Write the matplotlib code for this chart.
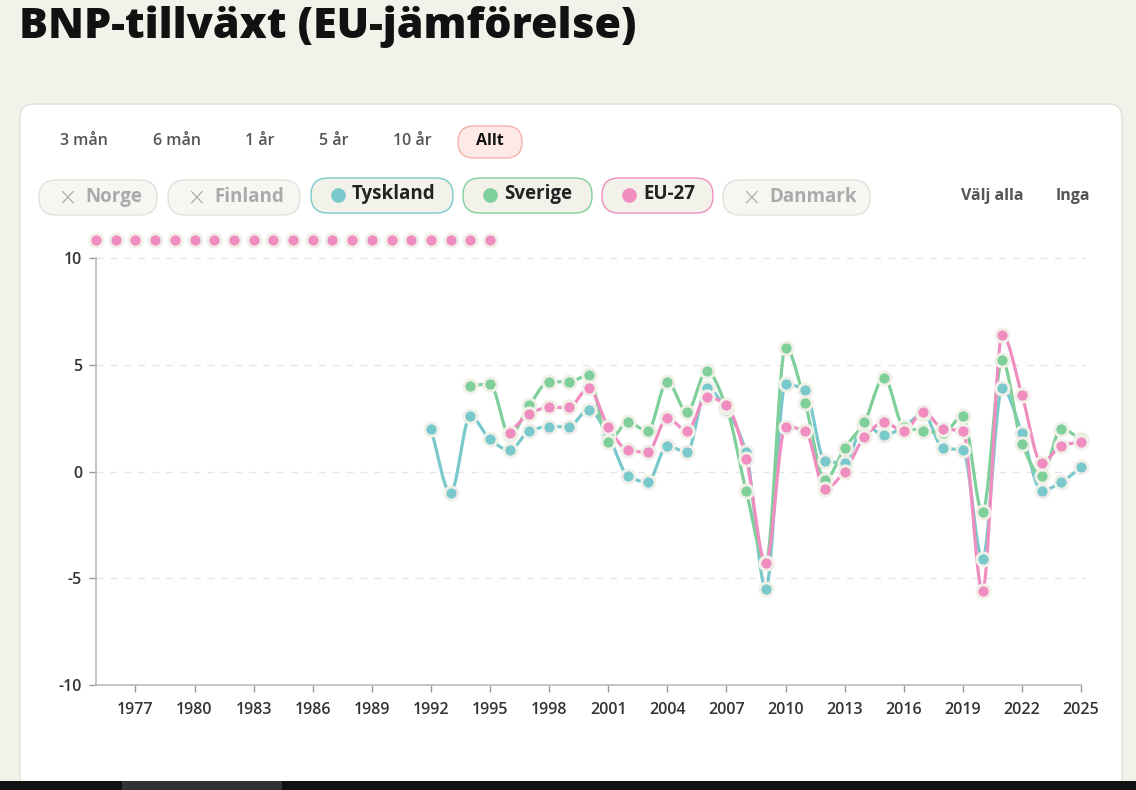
import numpy as np
import matplotlib
matplotlib.use("Agg")
import matplotlib.pyplot as plt
from matplotlib.patches import FancyBboxPatch, Rectangle

# Data (annual GDP growth, %)
tyskland_years = list(range(1992, 2026))
tyskland = [2.0, -1.0, 2.6, 1.5, 1.0, 1.9, 2.1, 2.1, 2.9, 1.7,
            -0.2, -0.5, 1.2, 0.9, 3.9, 2.9, 0.9, -5.5, 4.1, 3.8,
            0.5, 0.4, 2.2, 1.7, 2.1, 2.7, 1.1, 1.0, -4.1, 3.9,
            1.8, -0.9, -0.5, 0.2]

sverige_years = list(range(1994, 2026))
sverige = [4.0, 4.1, 1.7, 3.1, 4.2, 4.2, 4.5, 1.4, 2.3, 1.9,
           4.2, 2.8, 4.7, 3.0, -0.9, -4.3, 5.8, 3.2, -0.4, 1.1,
           2.3, 4.4, 2.1, 1.9, 1.8, 2.6, -1.9, 5.2, 1.3, -0.2,
           2.0, 1.5]

# EU-27 has no values before 1996; those years show as dots above the plot
eu_years = list(range(1975, 2026))
eu27 = [None] * 21 + [1.8, 2.7, 3.0, 3.0, 3.9, 2.1, 1.0, 0.9, 2.5, 1.9,
                      3.5, 3.1, 0.6, -4.3, 2.1, 1.9, -0.8, 0.0, 1.6, 2.3,
                      1.9, 2.8, 2.0, 1.9, -5.6, 6.4, 3.6, 0.4, 1.2, 1.4]

x_ticks = list(range(1977, 2026, 3))
y_ticks = [-10, -5, 0, 5, 10]

range_buttons = ["3 mån", "6 mån", "1 år", "5 år", "10 år", "Allt"]
series_buttons = ["Norge", "Finland", "Tyskland", "Sverige", "EU-27", "Danmark"]

TEAL = "#79c9cc"
GREEN = "#7ecf99"
PINK = "#f08dc0"
HALO = "#f1f0e8"
BG = "#f2f1ea"

plt.rcParams['font.family'] = ['Open Sans', 'DejaVu Sans']


def monotone(x, y, n=16):
    # monotone cubic (Fritsch-Carlson) path through the points, like d3 curveMonotoneX
    x = np.asarray(x, float)
    y = np.asarray(y, float)
    h = np.diff(x)
    d = np.diff(y) / h
    m = np.zeros_like(y)
    m[0], m[-1] = d[0], d[-1]
    for i in range(1, len(y) - 1):
        if d[i - 1] * d[i] <= 0:
            m[i] = 0
        else:
            m[i] = 3 * (h[i - 1] + h[i]) / ((2 * h[i] + h[i - 1]) / d[i - 1] + (h[i] + 2 * h[i - 1]) / d[i])
    xs, ys = [], []
    for i in range(len(h)):
        t = np.linspace(0, 1, n, endpoint=False)
        h00 = 2 * t**3 - 3 * t**2 + 1
        h10 = t**3 - 2 * t**2 + t
        h01 = -2 * t**3 + 3 * t**2
        h11 = t**3 - t**2
        xs.append(x[i] + t * h[i])
        ys.append(h00 * y[i] + h10 * h[i] * m[i] + h01 * y[i + 1] + h11 * h[i] * m[i + 1])
    xs.append([x[-1]])
    ys.append([y[-1]])
    return np.concatenate(xs), np.concatenate(ys)


fig = plt.figure(figsize=(11.36, 7.90), dpi=100)
fig.patch.set_facecolor(BG)

# ui layer in pixel coordinates
ui = fig.add_axes([0, 0, 1, 1])
ui.set_xlim(0, 1136)
ui.set_ylim(790, 0)
ui.axis('off')

ui.text(19, 27, "BNP-tillväxt (EU-jämförelse)", fontsize=31, fontweight='heavy',
        color="#111111", va='center', ha='left')

# white card
ui.add_patch(FancyBboxPatch((20, 104), 1102, 700, boxstyle="round,pad=0,rounding_size=14",
                            facecolor="white", edgecolor="#e2e0da", linewidth=1))

# time range buttons
btn_x = [84, 177, 260, 334, 412, 490]
for label, bx in zip(range_buttons, btn_x):
    if label == "Allt":
        ui.add_patch(FancyBboxPatch((bx - 32, 126), 64, 32, boxstyle="round,pad=0,rounding_size=16",
                                    facecolor="#fde9e6", edgecolor="#f5b3a8", linewidth=1))
        ui.text(bx, 141, label, fontsize=11.5, fontweight='bold', color="#111111", ha='center', va='center')
    else:
        ui.text(bx, 141, label, fontsize=11.5, fontweight='semibold', color="#555555", ha='center', va='center')

# series toggle pills
pills = {
    "Norge": (39, 157, None),
    "Finland": (168, 300, None),
    "Tyskland": (311, 453, TEAL),
    "Sverige": (463, 592, GREEN),
    "EU-27": (602, 713, PINK),
    "Danmark": (723, 870, None),
}
for name in series_buttons:
    x0, x1, col = pills[name]
    if col is None:
        ui.add_patch(FancyBboxPatch((x0, 180), x1 - x0, 35, boxstyle="round,pad=0,rounding_size=17",
                                    facecolor="#f7f6f2", edgecolor="#e3e1db", linewidth=1))
        ui.text(x0 + 28, 197, "×", fontsize=17, fontweight='light', color="#aaaaaa",
                ha='center', va='center', family=['DejaVu Sans'])
        ui.text(x0 + 46, 197, name, fontsize=13.5, fontweight='bold', color="#aaaaaa",
                ha='left', va='center')
    else:
        ui.add_patch(FancyBboxPatch((x0, 178), x1 - x0, 35, boxstyle="round,pad=0,rounding_size=17",
                                    facecolor=BG, edgecolor=col, linewidth=1))
        ui.plot([x0 + 27], [195], 'o', color=col, markersize=9.5)
        ui.text(x0 + 41, 194, name, fontsize=13.5, fontweight='bold', color="#222222",
                ha='left', va='center')

ui.text(992, 196, "Välj alla", fontsize=11.5, fontweight='bold', color="#555555", ha='center', va='center')
ui.text(1073, 196, "Inga", fontsize=11.5, fontweight='bold', color="#555555", ha='center', va='center')

# taskbar strip at the bottom of the screenshot
ui.add_patch(Rectangle((0, 781), 1136, 9, facecolor="#111111", edgecolor='none'))
ui.add_patch(Rectangle((122, 781), 160, 9, facecolor="#333333", edgecolor='none'))

# chart
ax = fig.add_axes([96 / 1136, 105 / 790, 985 / 1136, 427 / 790])
ax.patch.set_alpha(0)
ax.set_xlim(1975, 2025)
ax.set_ylim(-10, 10)

for yv in y_ticks[1:]:
    ax.axhline(yv, color="#e6e6e6", linewidth=1, linestyle=(0, (5, 5)), zorder=0, xmax=1.005, clip_on=False)

for yrs, vals, col in [(tyskland_years, tyskland, TEAL),
                       (sverige_years, sverige, GREEN)]:
    sx, sy = monotone(yrs, vals)
    ax.plot(sx, sy, color=col, linewidth=2.3, zorder=2, solid_capstyle='round')

eu_x = [y for y, v in zip(eu_years, eu27) if v is not None]
eu_y = [v for v in eu27 if v is not None]
sx, sy = monotone(eu_x, eu_y)
ax.plot(sx, sy, color=PINK, linewidth=2.3, zorder=2, solid_capstyle='round')

mk = dict(marker='o', linestyle='none', markersize=9.5, markeredgewidth=2.1,
          markeredgecolor=HALO, zorder=3, clip_on=False)
ax.plot(tyskland_years, tyskland, color=TEAL, **mk)
ax.plot(sverige_years, sverige, color=GREEN, **mk)
ax.plot(eu_x, eu_y, color=PINK, **mk)

# missing EU-27 years are parked just above the top of the plot
miss_x = [y for y, v in zip(eu_years, eu27) if v is None]
ax.plot(miss_x, [10.85] * len(miss_x), color=PINK, **mk)

ax.set_xticks(x_ticks)
ax.set_xticklabels([str(t) for t in x_ticks])
ax.set_yticks(y_ticks)
ax.set_yticklabels([str(t) for t in y_ticks])
ax.tick_params(axis='both', colors="#999999", labelcolor="#333333", labelsize=11.5, length=5, width=1)
ax.tick_params(axis='x', pad=7)
ax.tick_params(axis='y', pad=5)
for lab in ax.get_xticklabels() + ax.get_yticklabels():
    lab.set_fontweight('semibold')

for side in ['top', 'right']:
    ax.spines[side].set_visible(False)
for side in ['left', 'bottom']:
    ax.spines[side].set_color("#bbbbbb")
    ax.spines[side].set_linewidth(1.2)

fig.savefig("out.png", dpi=100, facecolor=fig.get_facecolor())
